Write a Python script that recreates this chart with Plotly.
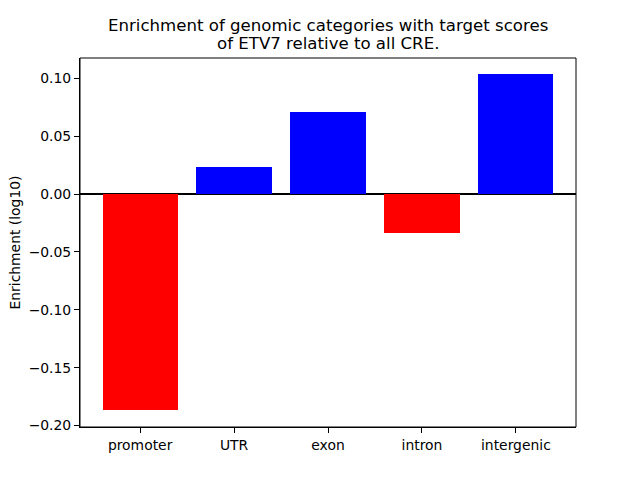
import plotly.graph_objects as go

categories = ["promoter", "UTR", "exon", "intron", "intergenic"]
values = [-0.1868, 0.0234, 0.0708, -0.0338, 0.1037]
colors = ["red" if v < 0 else "blue" for v in values]
y_ticks = [-0.20, -0.15, -0.10, -0.05, 0.00, 0.05, 0.10]
y_tick_text = ["−0.20", "−0.15", "−0.10", "−0.05", "0.00", "0.05", "0.10"]
title_lines = ["Enrichment of genomic categories with target scores", "of ETV7 relative to all CRE."]
y_title = "Enrichment (log10)"

fig = go.Figure(go.Bar(x=list(range(len(categories))), y=values,
                       marker=dict(color=colors, line=dict(width=0)), width=0.8))

font = "DejaVu Sans"
# page body has an 8px offset; margins compensate so the plot lands where the reference has it
OFF = 8
L, R, T, B = 80 - OFF, 64 + OFF, 58 - OFF, 53 + OFF
W, H = 640, 480
pw, ph = W - L - R, H - T - B

fig.update_layout(
    width=W, height=H,
    margin=dict(l=L, r=R, t=T, b=B, autoexpand=False),
    paper_bgcolor="white", plot_bgcolor="white",
    font=dict(family=font, size=13.9, color="black"),
    showlegend=False,
    bargap=0,
)
# title lines (centres measured in page pixels from top)
for line, yc in zip(title_lines, [26.0, 43.5]):
    fig.add_annotation(text=line, xref="paper", yref="paper", x=0.5, xanchor="center",
                       y=1 + (58 - yc) / ph, yanchor="middle", showarrow=False,
                       font=dict(family=font, size=16.6, color="black"))
# y axis title
fig.add_annotation(text=y_title, xref="paper", yref="paper", x=-(80 - 14) / pw, xanchor="center",
                   y=0.5, yanchor="middle", textangle=-90, showarrow=False,
                   font=dict(family=font, size=13.9, color="black"))
# frame
fig.add_shape(type="rect", xref="paper", yref="paper", x0=0, x1=1, y0=0, y1=1,
              line=dict(color="black", width=1), layer="above")

fig.update_xaxes(range=[-0.64, 4.64], tickmode="array", tickvals=list(range(len(categories))), ticktext=categories,
                 showline=True, linecolor="black", linewidth=1, ticks="outside", ticklen=5,
                 tickcolor="black", showgrid=False, zeroline=False, automargin=False)
fig.update_yaxes(range=[-0.2013, 0.1176], tickmode="array", tickvals=y_ticks, ticktext=y_tick_text,
                 showline=True, linecolor="black", linewidth=1, ticks="outside", ticklen=5,
                 tickcolor="black", showgrid=False, zeroline=True, zerolinecolor="black", zerolinewidth=2,
                 layer="above traces", automargin=False)
fig.write_html("out.html")
